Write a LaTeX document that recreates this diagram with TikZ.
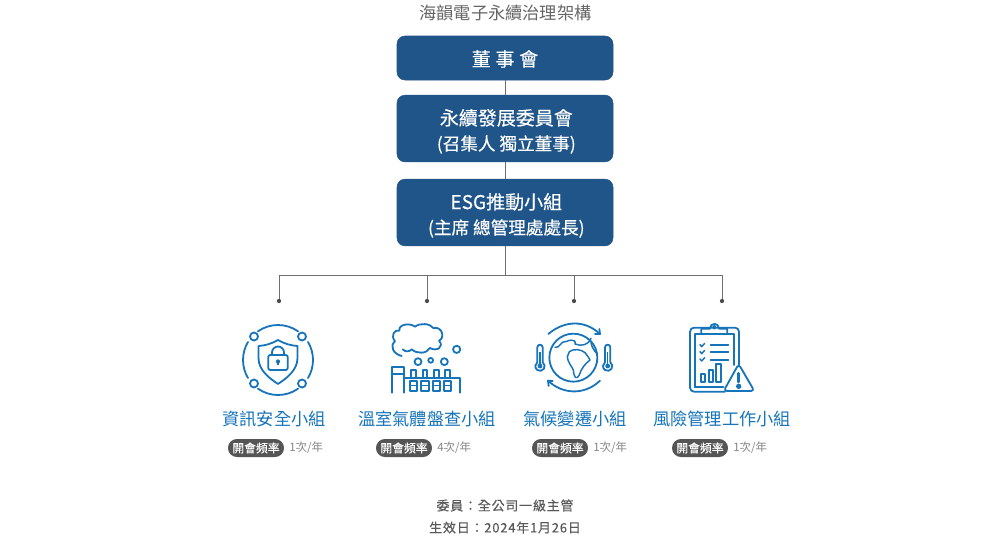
\documentclass[tikz,border=0pt]{standalone}
\usepackage{fontspec}
\setmainfont{Noto Sans CJK TC}
\newfontfamily\med[FakeBold=0.3]{Noto Sans CJK TC}
\newfontfamily\notef[LetterSpace=6,FakeBold=0.15]{Noto Sans CJK TC}
\definecolor{navy}{HTML}{20558A}
\definecolor{icon}{HTML}{1674BA}
\definecolor{conn}{HTML}{6E6E6E}
\definecolor{titlec}{HTML}{666666}
\definecolor{pillc}{HTML}{555555}
\definecolor{grayt}{HTML}{858585}
\newcommand{\px}[1]{\fontsize{\dimexpr#1pt*3/4\relax}{\dimexpr#1pt*9/10\relax}\selectfont}
\tikzset{
 x=0.75pt,y=-0.75pt,
 box/.style={draw=navy,fill=navy,rounded corners=6pt,minimum width=162pt,text=white,align=center,inner sep=0pt,font=\px{19}\med},
 conline/.style={draw=conn,line width=0.75pt},
 dotend/.style={circle,fill=black!70,inner sep=0pt,minimum size=3.2pt},
 ic/.style={draw=icon,line width=1.35pt,line cap=round,line join=round},
 ict/.style={draw=icon,line width=1.1pt,line cap=round,line join=round},
 grp/.style={text=icon,font=\px{17.2},inner sep=0pt},
 pill/.style={fill=pillc,text=white,rounded corners=6.7pt,minimum height=13.5pt,minimum width=42pt,inner sep=0pt,font=\px{11.8}\med},
 freq/.style={text=grayt,font=\px{11.5},inner sep=0pt,anchor=west},
 note/.style={text=black!65,font=\px{13}\notef,inner sep=0pt},
 ttl/.style={text=titlec,font=\px{17.2},inner sep=0pt}
}
\begin{document}
\begin{tikzpicture}
\useasboundingbox (0,0) rectangle (995,543);
\fill[white] (0,0) rectangle (995,543);
\node[ttl] (title) at (505.5,13) {海韻電子永續治理架構};
\node[box,minimum height=33pt] (board) at (505,58) {\rule{0pt}{13.5pt}董\hspace{0.25em}事\hspace{0.25em}會};
\node[box,minimum height=50pt] (comm) at (505,128.5) {\rule{0pt}{16.3pt}\hspace*{2pt}永續發展委員會\\[1.75pt]{\px{17.6}\hspace*{2pt}(召集人 獨立董事)}};
\node[box,minimum height=50pt] (esg) at (505,212.5) {\rule{0pt}{16.3pt}\hspace*{2pt}ESG推動小組\\[1.75pt]{\px{17.6}\hspace*{2pt}(主席 總管理處處長)}};
\draw[conline] (board) -- (comm);
\draw[conline] (comm) -- (esg);
\coordinate (bus) at (505,275);
\node[dotend] (d1) at (279,301) {};
\node[dotend] (d2) at (427,301) {};
\node[dotend] (d3) at (574,301) {};
\node[dotend] (d4) at (722,301) {};
\draw[conline] (esg.south) -- (bus);
\draw[conline] (bus) -| (d1);
\draw[conline] (bus) -| (d2);
\draw[conline] (bus) -| (d3);
\draw[conline] (bus) -| (d4);

% icon 1
\begin{scope}[shift={(278,360)}]
 \foreach \a/\b in {-31/31,55/125,149/211,235/305}{
  \draw[ic] (\a:26.25pt) arc[start angle=\a,end angle=\b,radius=26.25pt];}
 \foreach \sx/\sy in {-24/-23.5,24/-23.5,-24/23.5,24/23.5}{\draw[ic] (\sx,\sy) circle[radius=3pt];}
 \draw[ic] (0,-20) .. controls (7,-16) and (13,-14.5) .. (19.5,-14) -- (19.5,-2) .. controls (19.5,10) and (9,18) .. (0,24) .. controls (-9,18) and (-19.5,10) .. (-19.5,-2) -- (-19.5,-14) .. controls (-13,-14.5) and (-7,-16) .. (0,-20) -- cycle;
 \draw[ic,rounded corners=1.5pt] (-9.7,-5) rectangle (9.7,10);
 \draw[ic] (-6,-5) -- (-6,-7.5) arc[start angle=180,end angle=0,radius=4.5pt] -- (6,-5);
 \fill[icon] (0,1.5) circle[radius=1.6pt];
 \draw[icon,line width=1pt] (0,1.5) -- (0,5);
\end{scope}
% icon 2
\begin{scope}[shift={(220,310)},x=0.25pt,y=-0.25pt]
 \draw[ic] (545,138) .. controls (520,132) and (508,108) .. (525,94) .. controls (510,75) and (525,58) .. (538,62) .. controls (535,42) and (570,38) .. (585,50) .. controls (600,38) and (630,40) .. (640,54) .. controls (668,48) and (675,85) .. (657,92) .. controls (674,110) and (650,126) .. (630,114) .. controls (620,132) and (590,132) .. (575,118) .. controls (568,126) and (555,126) .. (548,118);
 \draw[ic] (710,118) circle[radius=2.7pt];
 \draw[ic] (594,155) circle[radius=2.6pt];
 \draw[ic] (632,151) circle[radius=1.8pt];
 \draw[ic] (673,155) circle[radius=2.6pt];
 \draw[ic] (515,248) -- (515,172) -- (552,172) -- (552,248);
 \draw[ic] (515,192) -- (552,192);
 \draw[ic] (552,205) -- (720,205) -- (720,248);
 \foreach \xx in {574,608,642,676}{\draw[ic] (\xx,205) -- (\xx,181) -- (\xx+14,181) -- (\xx+14,205);}
 \foreach \xx in {570,604,638,672}{\draw[ic] (\xx,213) rectangle (\xx+22,242); \draw[ict] (\xx,227) -- (\xx+22,227);}
\end{scope}
% icon 3
\begin{scope}[shift={(510,310)},x=0.25pt,y=-0.25pt]
 \draw[ic] (190,143) circle[radius=18pt];
 \draw[ic] (115,72) .. controls (165,30) and (225,30) .. (270,72);
 \draw[ic] (255,72) -- (270,72) -- (268,57);
 \draw[ic] (270,212) .. controls (225,255) and (160,255) .. (114,212);
 \draw[ic] (128,213) -- (114,212) -- (116,228);
 \draw[ict] (135,112) .. controls (150,116) and (150,92) .. (170,94) .. controls (190,85) and (200,95) .. (195,102) .. controls (215,110) and (235,105) .. (243,85);
 \draw[ict] (243,98) .. controls (245,112) and (255,125) .. (260,130);
 \draw[ict] (178,125) .. controls (190,115) and (215,118) .. (225,128) .. controls (232,135) and (235,142) .. (240,150) .. controls (228,160) and (216,170) .. (208,195) .. controls (200,210) and (192,205) .. (190,180) .. controls (186,170) and (172,155) .. (172,140) -- cycle;
 \foreach \xx in {90,293}{
  \draw[ic] (\xx-8,157) -- (\xx-8,112) arc[start angle=180,end angle=0,radius=2pt] -- (\xx+8,157) arc[start angle=55,end angle=-235,radius=3.5pt] -- cycle;
  \fill[icon] (\xx,168) circle[radius=1.8pt];
  \draw[icon,line width=1.1pt] (\xx,125) -- (\xx,165);
 }
\end{scope}
% icon 4
\begin{scope}[shift={(510,310)},x=0.25pt,y=-0.25pt]
 \draw[ic,rounded corners=3pt] (645,245) -- (540,245) -- (540,53) -- (687,53) -- (687,165);
 \draw[ic] (574,72) -- (574,56) -- (600,56) .. controls (600,37) and (627,37) .. (627,56) -- (652,56) -- (652,72) -- cycle;
 \draw[ict] (613,52) circle[radius=1.2pt];
 \draw[ic] (555,232) -- (555,72) -- (574,72);
 \draw[ic] (652,72) -- (672,72) -- (672,165);
 \draw[ic] (555,232) -- (640,232);
 \foreach \yy in {106,127,149}{
  \draw[ic] (602,\yy) -- (655,\yy);
  \draw[ict] (570,\yy-2) -- (575,\yy+4) -- (584,\yy-6);}
 \draw[ic] (572,193) rectangle (586,217);
 \draw[ic] (596,180) rectangle (610,217);
 \draw[ic] (618,163) rectangle (634,217);
 \draw[ic,rounded corners=2.5pt,fill=white] (686,162) -- (733,243) -- (641,243) -- cycle;
 \draw[ic,line width=2.2pt] (686,190) -- (686,216);
 \fill[icon] (686,229) circle[radius=2pt];
\end{scope}

\node[grp] (g1) at (274,419) {資訊安全小組};
\node[grp] (g2) at (427,419) {溫室氣體盤查小組};
\node[grp] (g3) at (575,419) {氣候變遷小組};
\node[grp] (g4) at (722,419) {風險管理工作小組};
\node[pill] (p1) at (256,448) {開會頻率};
\node[pill] (p2) at (404,448) {開會頻率};
\node[pill] (p3) at (560,448) {開會頻率};
\node[pill] (p4) at (700,448) {開會頻率};
\node[freq] (f1) at (289,448) {1次/年};
\node[freq] (f2) at (437,448) {4次/年};
\node[freq] (f3) at (593,448) {1次/年};
\node[freq] (f4) at (733,448) {1次/年};
\node[note] (n1) at (505,505.5) {委員：全公司一級主管};
\node[note] (n2) at (505,527.5) {生效日：2024年1月26日};
\end{tikzpicture}
\end{document}
